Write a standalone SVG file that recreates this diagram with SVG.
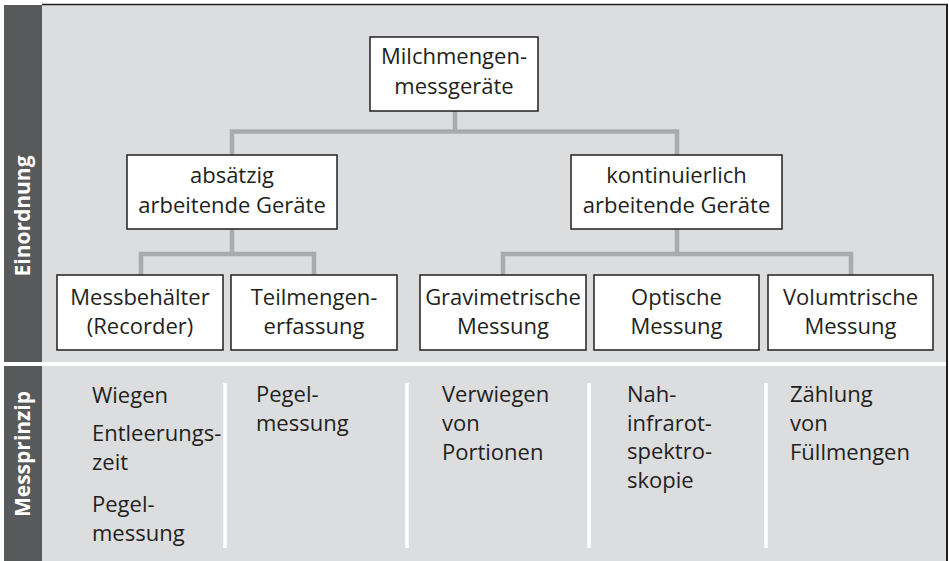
<svg xmlns="http://www.w3.org/2000/svg" width="949" height="561" viewBox="0 0 949 561">
<style>
.bg{fill:#dcdddf}
.bar{fill:#58595b}
.side{font-family:"Open Sans","Noto Sans",sans-serif;font-weight:bold;font-size:21px;fill:#ffffff;text-anchor:middle}
.box{fill:#ffffff;stroke:#231f20;stroke-width:1.5}
.t{font-family:"Open Sans","Noto Sans",sans-serif;font-size:22px;fill:#231f20;text-anchor:middle}
.c{font-family:"Open Sans","Noto Sans",sans-serif;font-size:22px;fill:#231f20}
.conn{fill:none;stroke:#a8aaad;stroke-width:4.5}
.sep{stroke:#ffffff;stroke-width:3.5}
</style>
<rect x="0" y="0" width="949" height="561" fill="#ffffff"/>
<!-- sections -->
<rect class="bg" x="42" y="5" width="905" height="357"/>
<rect class="bg" x="42" y="366" width="905" height="195"/>
<rect class="bar" x="4" y="5" width="38" height="357"/>
<rect class="bar" x="4" y="366" width="38" height="195"/>
<line x1="42" y1="4.5" x2="948" y2="4.5" stroke="#231f20" stroke-width="1.5"/>
<line x1="947" y1="4" x2="947" y2="561" stroke="#231f20" stroke-width="2"/>
<text class="side" transform="translate(30,216) rotate(-90)">Einordnung</text>
<text class="side" transform="translate(30,454) rotate(-90)">Messprinzip</text>
<!-- connectors -->
<g id="connectors">
<path class="conn" d="M455 111V131.5M232 155V131.5H677V155"/>
<path class="conn" d="M232 229V254M141 275V254H314V275"/>
<path class="conn" d="M677 229V254M503 275V254H851V275"/>
</g>
<!-- nodes -->
<g id="root">
<rect class="box" x="370" y="37" width="168" height="74"/>
<text class="t" x="454" y="64">Milchmengen-</text>
<text class="t" x="454" y="94">messgeräte</text>
</g>
<g id="absaetzig">
<rect class="box" x="127" y="155" width="210" height="74"/>
<text class="t" x="232" y="183">absätzig</text>
<text class="t" x="232" y="213">arbeitende Geräte</text>
</g>
<g id="kontinuierlich">
<rect class="box" x="571" y="155" width="211" height="74"/>
<text class="t" x="676.5" y="183">kontinuierlich</text>
<text class="t" x="676.5" y="213">arbeitende Geräte</text>
</g>
<g id="messbehaelter">
<rect class="box" x="57" y="275" width="166" height="75"/>
<text class="t" x="140" y="305">Messbehälter</text>
<text class="t" x="140" y="334">(Recorder)</text>
</g>
<g id="teilmengen">
<rect class="box" x="231" y="275" width="166" height="75"/>
<text class="t" x="314" y="305">Teilmengen-</text>
<text class="t" x="314" y="334">erfassung</text>
</g>
<g id="gravimetrisch">
<rect class="box" x="420" y="275" width="166" height="75"/>
<text class="t" x="503" y="305">Gravimetrische</text>
<text class="t" x="503" y="334">Messung</text>
</g>
<g id="optisch">
<rect class="box" x="594" y="275" width="165" height="75"/>
<text class="t" x="676.5" y="305">Optische</text>
<text class="t" x="676.5" y="334">Messung</text>
</g>
<g id="volumetrisch">
<rect class="box" x="768" y="275" width="165" height="75"/>
<text class="t" x="850.5" y="305">Volumtrische</text>
<text class="t" x="850.5" y="334">Messung</text>
</g>
<!-- Messprinzip columns -->
<g id="separators">
<line class="sep" x1="225" y1="383" x2="225" y2="548"/>
<line class="sep" x1="407" y1="383" x2="407" y2="548"/>
<line class="sep" x1="589" y1="383" x2="589" y2="548"/>
<line class="sep" x1="766" y1="383" x2="766" y2="548"/>
</g>
<g id="col1">
<text class="c" x="92" y="403">Wiegen</text>
<text class="c" x="92" y="441">Entleerungs-</text>
<text class="c" x="92" y="470">zeit</text>
<text class="c" x="92" y="512">Pegel-</text>
<text class="c" x="92" y="541">messung</text>
</g>
<g id="col2">
<text class="c" x="256" y="402">Pegel-</text>
<text class="c" x="256" y="431">messung</text>
</g>
<g id="col3">
<text class="c" x="442" y="402">Verwiegen</text>
<text class="c" x="442" y="431">von</text>
<text class="c" x="442" y="460">Portionen</text>
</g>
<g id="col4">
<text class="c" x="627" y="402">Nah-</text>
<text class="c" x="627" y="431">infrarot-</text>
<text class="c" x="627" y="459">spektro-</text>
<text class="c" x="627" y="488">skopie</text>
</g>
<g id="col5">
<text class="c" x="790" y="402">Zählung</text>
<text class="c" x="790" y="431">von</text>
<text class="c" x="790" y="460">Füllmengen</text>
</g>
</svg>
